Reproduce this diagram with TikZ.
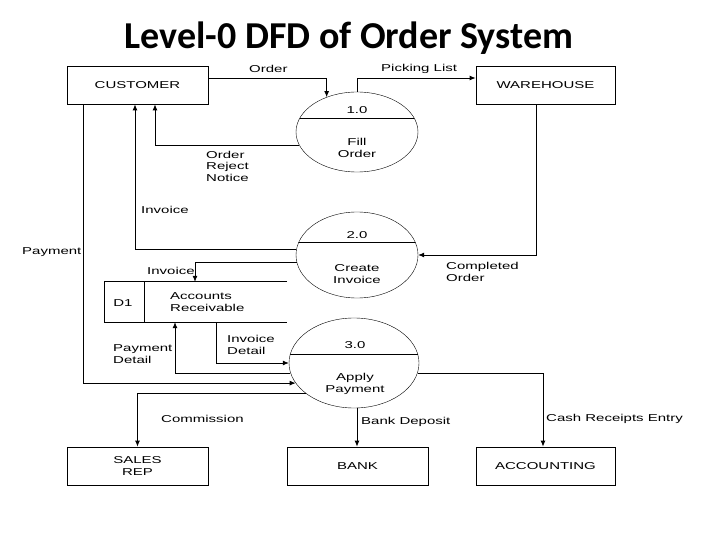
\documentclass[tikz,border=0pt]{standalone}
\usepackage{fontspec}
\setmainfont{Liberation Sans}
\newfontfamily\titlefont{Carlito}
\newfontfamily\lblfont[FakeStretch=1.5]{Liberation Sans}
\usetikzlibrary{shapes.geometric,arrows.meta}
\begin{document}
\begin{tikzpicture}[x=1pt,y=-1pt,
  box/.style={draw,thick,rectangle,minimum width=141pt,minimum height=38pt,inner sep=0pt,font=\lblfont\fontsize{10}{11.5}\selectfont,align=center},
  proc/.style={draw,thin,ellipse,inner sep=0pt},
  lbl/.style={anchor=west,inner sep=0pt,font=\lblfont\fontsize{10}{11.5}\selectfont,align=left},
  ptxt/.style={inner sep=0pt,font=\lblfont\fontsize{10}{11.5}\selectfont,align=center},
  arr/.style={thick,-{Latex[length=6pt,width=5pt]}}]
\useasboundingbox (0,0) rectangle (720,540);
\node (title) at (349,38) {\titlefont\bfseries\fontsize{38}{44}\selectfont Level-0 DFD of Order System};
% external entities
\node[box] (cust) at (137.5,85) {CUSTOMER};
\node[box,minimum width=139pt] (wh) at (545.5,85) {WAREHOUSE};
\node[box] (sales) at (137.5,466) {SALES\\REP};
\node[box] (bank) at (357.5,466) {BANK};
\node[box,minimum width=139pt] (acc) at (545.5,466) {ACCOUNTING};
% processes
\node[proc,minimum width=122pt,minimum height=80pt] (p1) at (357,132) {};
\node[proc,minimum width=122pt,minimum height=86pt] (p2) at (357,255) {};
\node[proc,minimum width=130pt,minimum height=90pt] (p3) at (354,363) {};
\begin{scope}\clip (357,132) ellipse [x radius=61pt,y radius=40pt];
\draw (290,118) -- (425,118);\end{scope}
\begin{scope}\clip (357,255) ellipse [x radius=61pt,y radius=43pt];
\draw (290,242) -- (425,242);\end{scope}
\begin{scope}\clip (354,363) ellipse [x radius=65pt,y radius=45pt];
\draw (280,354) -- (425,354);\end{scope}
\node[ptxt] (n1) at (357,110) {1.0};
\node[ptxt] (t1) at (357,148) {Fill\\Order};
\node[ptxt] (n2) at (357,235) {2.0};
\node[ptxt] (t2) at (357,274) {Create\\Invoice};
\node[ptxt] (n3) at (355,345) {3.0};
\node[ptxt] (t3) at (355,384) {Apply\\Payment};
% data store
\node[minimum width=182pt,minimum height=40pt,inner sep=0pt] (ar) at (196,302) {};
\draw[thick] (ar.north east) -- (ar.north west) -- (ar.south west) -- (ar.south east);
\draw[thick] (ar.north west -| 144,0) -- (ar.south west -| 144,0);
\node[ptxt] (d1) at (123,303) {D1};
\node[lbl] (arl) at (170,302) {Accounts\\Receivable};
% flows
\draw[arr] (cust.east |- 0,78) -| (p1.131);
\draw[arr] (p1.north) |- (wh.west |- 0,78);
\draw[arr] (p1.193) -| (cust.south -| 155,0);
\draw[arr] (p2.175) -| (cust.south -| 135,0);
\draw[arr] (p2.187) -| (ar.north -| 195,0);
\draw[arr] (wh.south -| 536,0) |- (p2.east);
\draw[arr] (ar.south -| 216,0) |- (p3.west);
\draw[arr] (p3.189) -| (ar.south -| 175,0);
\draw[arr] (cust.south -| 83,0) |- (p3.199);
\draw[arr] (p3.212) -| (sales.north);
\draw[arr] (p3.south -| 357,0) -- (bank.north -| 357,0);
\draw[arr] (p3.351) -| (acc.north -| 543,0);
% labels
\node[lbl] (l1) at (249,69) {Order};
\node[lbl] (l2) at (381,69) {Picking List};
\node[lbl] (l3) at (206,166) {Order\\Reject\\Notice};
\node[lbl] (l4) at (141,210) {Invoice};
\node[lbl] (l5) at (22,252) {Payment};
\node[lbl] (l6) at (147,271) {Invoice};
\node[lbl] (l7) at (446,272) {Completed\\Order};
\node[lbl] (l8) at (227,345) {Invoice\\Detail};
\node[lbl] (l9) at (113,354) {Payment\\Detail};
\node[lbl] (l10) at (161,419) {Commission};
\node[lbl] (l11) at (361,422) {Bank Deposit};
\node[lbl] (l12) at (546,419) {Cash Receipts Entry};
\end{tikzpicture}
\end{document}
